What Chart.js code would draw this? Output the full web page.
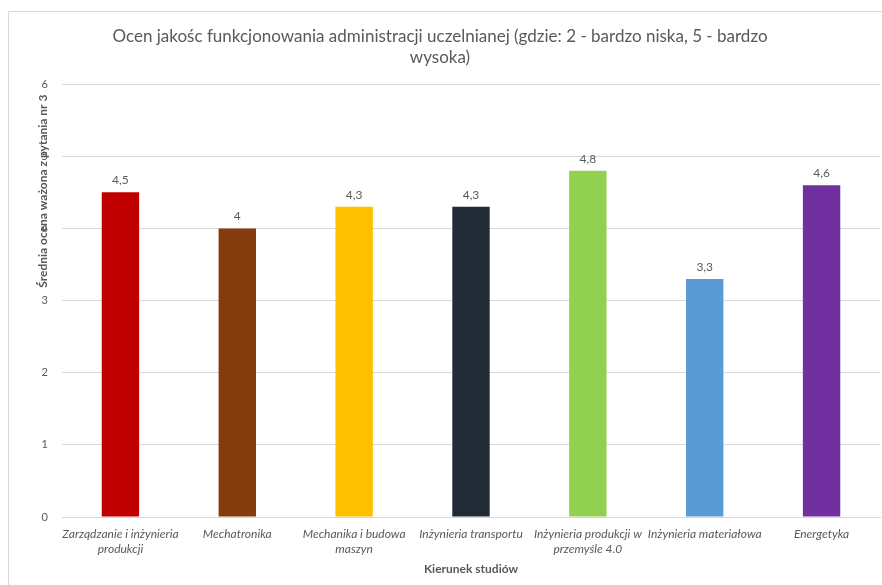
<!DOCTYPE html>
<html>
<head>
<meta charset="utf-8">
<script src="https://cdn.jsdelivr.net/npm/chart.js@4/dist/chart.umd.min.js"></script>
<style>
  html, body { margin: 0; padding: 0; background: #fff; }
  #wrap { position: relative; width: 882px; height: 585px; }
  #frame { position: absolute; left: 8px; top: 11px; right: -2px; bottom: -2px;
           border-left: 1px solid #d9d9d9; border-top: 1px solid #d9d9d9; }
  canvas { position: absolute; left: 0; top: 0; }
</style>
</head>
<body>
<div id="wrap">
  <div id="frame"></div>
  <canvas id="chart" width="882" height="585"></canvas>
</div>
<script>
const titleLines = ["Ocen jakośc funkcjonowania administracji uczelnianej (gdzie: 2 - bardzo niska, 5 - bardzo", "wysoka)"];
const categories = [
    ["Zarządzanie i inżynieria", "produkcji"],
    "Mechatronika",
    ["Mechanika i budowa", "maszyn"],
    "Inżynieria transportu",
    ["Inżynieria produkcji w", "przemyśle 4.0"],
    "Inżynieria materiałowa",
    "Energetyka"
];
const values = [4.5, 4, 4.3, 4.3, 4.8, 3.3, 4.6];
const valueLabels = ["4,5", "4", "4,3", "4,3", "4,8", "3,3", "4,6"];
const barColors = ["#C00000", "#843C0C", "#FFC000", "#222A35", "#92D050", "#5B9BD5", "#7030A0"];
const yTitle = "Średnia ocena ważona z pytania nr 3";
const xTitle = "Kierunek studiów";

const FONT = "Lato, 'Noto Sans', sans-serif";
const GRAY = "#595959";

// value labels above bars + rotated y axis title
const extras = {
    id: "extras",
    afterDatasetsDraw(chart) {
        let ctx = chart.ctx;
        let meta = chart.getDatasetMeta(0);
        ctx.save();
        ctx.fillStyle = GRAY;
        ctx.font = "12px " + FONT;
        ctx.textAlign = "center";
        ctx.textBaseline = "bottom";
        meta.data.forEach(function (bar, i) {
            ctx.fillText(valueLabels[i], bar.x, bar.y - 6);
        });
        ctx.restore();

        let area = chart.chartArea;
        ctx.save();
        ctx.translate(area.left - 19, area.top + 107);
        ctx.rotate(-Math.PI / 2);
        ctx.fillStyle = GRAY;
        ctx.font = "bold 12px " + FONT;
        ctx.textAlign = "center";
        ctx.textBaseline = "middle";
        ctx.fillText(yTitle, 0, 0);
        ctx.restore();
    }
};

new Chart(document.getElementById("chart"), {
    type: "bar",
    data: {
        labels: categories,
        datasets: [{
            data: values,
            backgroundColor: barColors,
            borderWidth: 0,
            barPercentage: 0.32,
            categoryPercentage: 1
        }]
    },
    options: {
        responsive: false,
        animation: false,
        layout: { padding: { left: 0, right: 2, top: 0, bottom: 0 } },
        plugins: {
            legend: { display: false },
            tooltip: { enabled: false },
            title: {
                display: true,
                text: titleLines,
                color: GRAY,
                font: { family: FONT, size: 17, weight: "normal", lineHeight: 1.24 },
                padding: { top: 26, bottom: 16 }
            }
        },
        scales: {
            x: {
                grid: { display: false },
                border: { color: "#d9d9d9" },
                ticks: {
                    color: GRAY,
                    font: { family: FONT, size: 12, style: "italic", lineHeight: 1.25 },
                    maxRotation: 0,
                    autoSkip: false,
                    padding: 2
                },
                title: {
                    display: true,
                    text: xTitle,
                    color: GRAY,
                    font: { family: FONT, size: 12, weight: "bold" },
                    padding: { top: 4, bottom: 9 }
                },
                afterFit(scale) { scale.height = 68; }
            },
            y: {
                min: 0,
                max: 6,
                ticks: {
                    stepSize: 1,
                    color: GRAY,
                    font: { family: FONT, size: 11 },
                    padding: 14
                },
                grid: { color: "#d9d9d9", drawTicks: false },
                border: { display: false },
                afterFit(scale) { scale.width = 62; }
            }
        }
    },
    plugins: [extras]
});
</script>
</body>
</html>
